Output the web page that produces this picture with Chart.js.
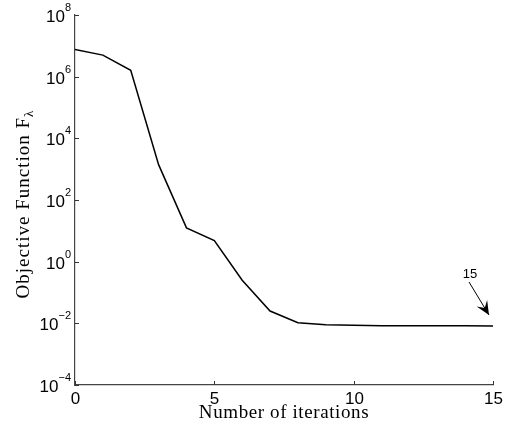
<!DOCTYPE html>
<html>
<head>
<meta charset="utf-8">
<script src="https://cdn.jsdelivr.net/npm/chart.js@4/dist/chart.umd.min.js"></script>
<style>
  html, body { margin: 0; padding: 0; background: #fff; }
  #wrap { width: 512px; height: 434px; }
</style>
</head>
<body>
<div id="wrap"><canvas id="chart"></canvas></div>
<script>
// valores
const iteracoes = [0, 1, 2, 3, 4, 5, 6, 7, 8, 9, 10, 11, 12, 13, 14, 15];
const objetivo = [7.6e6, 5.0e6, 1.6e6, 1.4e3, 12.5, 4.8, 0.25, 0.025, 0.0105, 0.0090, 0.0086, 0.0083, 0.0083, 0.0083, 0.0083, 0.0082];
const ticksX = [0, 5, 10, 15];
const expoentesY = [-4, -2, 0, 2, 4, 6, 8];
const rotuloSeta = '15';

const serifa = '"Liberation Serif", "DejaVu Serif", serif';
const sans = '"Liberation Sans", Arial, sans-serif';

// desenha eixos, rotulos e a seta
const eixosPlugin = {
  id: 'eixos',
  afterDraw(chart) {
    const ctx = chart.ctx;
    const sx = chart.scales.x, sy = chart.scales.y;
    const a = chart.chartArea;
    ctx.save();
    ctx.strokeStyle = '#333';
    ctx.lineWidth = 1;
    ctx.fillStyle = '#000';

    // ticks do eixo x (para dentro)
    ctx.font = '17px ' + sans;
    ctx.textAlign = 'center';
    ctx.textBaseline = 'top';
    ticksX.forEach(v => {
      const px = Math.round(sx.getPixelForValue(v)) + 0.5;
      ctx.beginPath();
      ctx.moveTo(px, a.bottom);
      ctx.lineTo(px, a.bottom - 4);
      ctx.stroke();
      ctx.fillText(String(v), px, a.bottom + 6);
    });

    // ticks do eixo y
    expoentesY.forEach(e => {
      const py = Math.round(sy.getPixelForValue(Math.pow(10, e))) + 0.5;
      ctx.beginPath();
      ctx.moveTo(a.left, py);
      ctx.lineTo(a.left + 4, py);
      ctx.stroke();
      const exp = e < 0 ? '\u2212' + Math.abs(e) : String(e);
      ctx.font = '11px ' + sans;
      const we = ctx.measureText(exp).width;
      ctx.textAlign = 'right';
      ctx.textBaseline = 'alphabetic';
      ctx.fillText(exp, a.left - 4, py - 5);
      ctx.font = '17px ' + sans;
      ctx.fillText('10', a.left - 4 - we, py + 6);
    });

    // titulo x
    ctx.font = '19px ' + serifa;
    ctx.letterSpacing = '0.6px';
    ctx.textAlign = 'center';
    ctx.textBaseline = 'alphabetic';
    ctx.fillText('Number of iterations', (a.left + a.right) / 2, 418);

    // titulo y com subscrito
    ctx.save();
    ctx.translate(29, 204);
    ctx.rotate(-Math.PI / 2);
    ctx.font = '19px ' + serifa;
    ctx.letterSpacing = '1px';
    const t1 = 'Objective Function F';
    const w1 = ctx.measureText(t1).width;
    ctx.font = '13px ' + serifa;
    const w2 = ctx.measureText('\u03bb').width;
    const x0 = -(w1 + w2) / 2;
    ctx.textAlign = 'left';
    ctx.font = '19px ' + serifa;
    ctx.fillText(t1, x0, 0);
    ctx.font = '13px ' + serifa;
    ctx.fillText('\u03bb', x0 + w1, 4);
    ctx.restore();
    ctx.letterSpacing = '0px';

    // seta apontando o ultimo ponto
    const n = iteracoes.length - 1;
    const tx = sx.getPixelForValue(iteracoes[n]);
    const ty = sy.getPixelForValue(objetivo[n]);
    const ponta = [tx - 4, ty - 11];
    const inicio = [tx - 24, ty - 44];
    ctx.strokeStyle = '#000';
    ctx.beginPath();
    ctx.moveTo(inicio[0], inicio[1]);
    ctx.lineTo(ponta[0], ponta[1]);
    ctx.stroke();
    const ang = Math.atan2(ponta[1] - inicio[1], ponta[0] - inicio[0]);
    const L = 15, W = 0.42;
    ctx.beginPath();
    ctx.moveTo(ponta[0], ponta[1]);
    ctx.lineTo(ponta[0] - L * Math.cos(ang - W), ponta[1] - L * Math.sin(ang - W));
    ctx.lineTo(ponta[0] - L * 0.55 * Math.cos(ang), ponta[1] - L * 0.55 * Math.sin(ang));
    ctx.lineTo(ponta[0] - L * Math.cos(ang + W), ponta[1] - L * Math.sin(ang + W));
    ctx.closePath();
    ctx.fill();
    ctx.font = '13px ' + sans;
    ctx.textAlign = 'center';
    ctx.textBaseline = 'middle';
    ctx.fillText(rotuloSeta, tx - 23, ty - 52);

    ctx.restore();
  }
};

const ctx = document.getElementById('chart').getContext('2d');
new Chart(ctx, {
  type: 'line',
  data: {
    datasets: [{
      data: iteracoes.map((x, i) => ({ x: x, y: objetivo[i] })),
      borderColor: '#000',
      borderWidth: 1.5,
      pointRadius: 0,
      fill: false,
      tension: 0
    }]
  },
  options: {
    responsive: true,
    maintainAspectRatio: false,
    animation: false,
    layout: { padding: { left: 75, right: 19, top: 15, bottom: 49 } },
    plugins: { legend: { display: false }, tooltip: { enabled: false } },
    scales: {
      x: {
        type: 'linear', min: 0, max: 15,
        grid: { display: false, drawTicks: false },
        border: { display: true, color: '#444', width: 1.2 },
        ticks: { display: false }
      },
      y: {
        type: 'logarithmic', min: 1e-4, max: 1e8,
        grid: { display: false, drawTicks: false },
        border: { display: true, color: '#444', width: 1.2 },
        ticks: { display: false }
      }
    }
  },
  plugins: [eixosPlugin]
});
</script>
</body>
</html>
